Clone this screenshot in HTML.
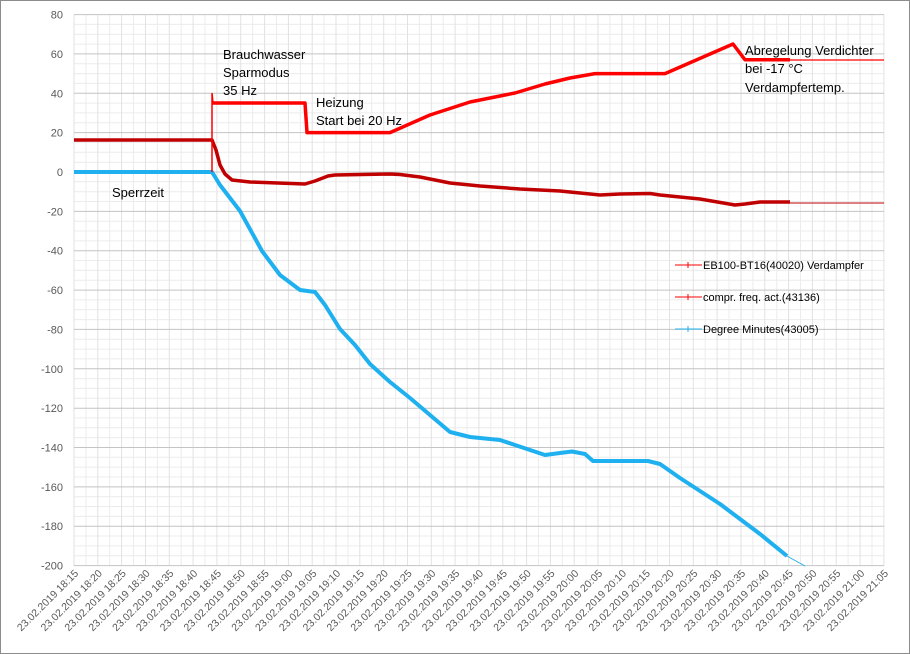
<!DOCTYPE html>
<html><head><meta charset="utf-8"><style>
html,body{margin:0;padding:0;background:#fff}
svg{display:block;font-family:"Liberation Sans",sans-serif}
</style></head><body>
<svg width="910" height="654" viewBox="0 0 910 654" xmlns="http://www.w3.org/2000/svg">
<rect x="0.5" y="0.5" width="909" height="653" fill="#fff" stroke="#8c8c8c"/>
<g stroke="#ececec" stroke-width="1">
<path d="M74 24.4H884M74 34.2H884M74 44.1H884M74 63.7H884M74 73.6H884M74 83.4H884M74 103.1H884M74 112.9H884M74 122.8H884M74 142.4H884M74 152.3H884M74 162.2H884M74 181.8H884M74 191.7H884M74 201.5H884M74 221.2H884M74 231H884M74 240.9H884M74 260.5H884M74 270.4H884M74 280.2H884M74 299.9H884M74 309.7H884M74 319.6H884M74 339.2H884M74 349.1H884M74 358.9H884M74 378.6H884M74 388.4H884M74 398.3H884M74 417.9H884M74 427.8H884M74 437.6H884M74 457.3H884M74 467.1H884M74 477H884M74 496.7H884M74 506.5H884M74 516.4H884M74 536H884M74 545.9H884M74 555.7H884"/>
<path d="M85.9 15V566M109.7 15V566M133.5 15V566M157.4 15V566M181.2 15V566M205 15V566M228.8 15V566M252.6 15V566M276.5 15V566M300.3 15V566M324.1 15V566M347.9 15V566M371.7 15V566M395.6 15V566M419.4 15V566M443.2 15V566M467 15V566M490.8 15V566M514.7 15V566M538.5 15V566M562.3 15V566M586.1 15V566M609.9 15V566M633.8 15V566M657.6 15V566M681.4 15V566M705.2 15V566M729 15V566M752.9 15V566M776.7 15V566M800.5 15V566M824.3 15V566M848.1 15V566M872 15V566"/>
<path d="M74 15V566M97.8 15V566M121.6 15V566M145.5 15V566M169.3 15V566M193.1 15V566M216.9 15V566M240.7 15V566M264.6 15V566M288.4 15V566M312.2 15V566M336 15V566M359.8 15V566M383.7 15V566M407.5 15V566M431.3 15V566M455.1 15V566M478.9 15V566M502.8 15V566M526.6 15V566M550.4 15V566M574.2 15V566M598 15V566M621.9 15V566M645.7 15V566M669.5 15V566M693.3 15V566M717.1 15V566M741 15V566M764.8 15V566M788.6 15V566M812.4 15V566M836.2 15V566M860.1 15V566M883.9 15V566" stroke="#e2e2e2"/>
</g>
<g stroke="#c4c4c4" stroke-width="1">
<path d="M74 14.6H884M74 53.9H884M74 93.3H884M74 132.6H884M74 172H884M74 211.4H884M74 250.7H884M74 290.1H884M74 329.4H884M74 368.8H884M74 408.2H884M74 447.5H884M74 486.9H884M74 526.2H884M74 565.6H884"/>
</g>
<g font-size="11" fill="#595959" text-anchor="end">
<text x="63" y="18.6">80</text><text x="63" y="57.9">60</text><text x="63" y="97.3">40</text><text x="63" y="136.6">20</text><text x="63" y="176">0</text><text x="63" y="215.4">-20</text><text x="63" y="254.7">-40</text><text x="63" y="294.1">-60</text><text x="63" y="333.4">-80</text><text x="63" y="372.8">-100</text><text x="63" y="412.2">-120</text><text x="63" y="451.5">-140</text><text x="63" y="490.9">-160</text><text x="63" y="530.2">-180</text><text x="63" y="569.6">-200</text>
</g>
<g font-size="10.5" fill="#595959" text-anchor="end">
<text transform="translate(79,574) rotate(-45)">23.02.2019 18:15</text>
<text transform="translate(102.8,574) rotate(-45)">23.02.2019 18:20</text>
<text transform="translate(126.6,574) rotate(-45)">23.02.2019 18:25</text>
<text transform="translate(150.5,574) rotate(-45)">23.02.2019 18:30</text>
<text transform="translate(174.3,574) rotate(-45)">23.02.2019 18:35</text>
<text transform="translate(198.1,574) rotate(-45)">23.02.2019 18:40</text>
<text transform="translate(221.9,574) rotate(-45)">23.02.2019 18:45</text>
<text transform="translate(245.7,574) rotate(-45)">23.02.2019 18:50</text>
<text transform="translate(269.6,574) rotate(-45)">23.02.2019 18:55</text>
<text transform="translate(293.4,574) rotate(-45)">23.02.2019 19:00</text>
<text transform="translate(317.2,574) rotate(-45)">23.02.2019 19:05</text>
<text transform="translate(341,574) rotate(-45)">23.02.2019 19:10</text>
<text transform="translate(364.8,574) rotate(-45)">23.02.2019 19:15</text>
<text transform="translate(388.7,574) rotate(-45)">23.02.2019 19:20</text>
<text transform="translate(412.5,574) rotate(-45)">23.02.2019 19:25</text>
<text transform="translate(436.3,574) rotate(-45)">23.02.2019 19:30</text>
<text transform="translate(460.1,574) rotate(-45)">23.02.2019 19:35</text>
<text transform="translate(483.9,574) rotate(-45)">23.02.2019 19:40</text>
<text transform="translate(507.8,574) rotate(-45)">23.02.2019 19:45</text>
<text transform="translate(531.6,574) rotate(-45)">23.02.2019 19:50</text>
<text transform="translate(555.4,574) rotate(-45)">23.02.2019 19:55</text>
<text transform="translate(579.2,574) rotate(-45)">23.02.2019 20:00</text>
<text transform="translate(603,574) rotate(-45)">23.02.2019 20:05</text>
<text transform="translate(626.9,574) rotate(-45)">23.02.2019 20:10</text>
<text transform="translate(650.7,574) rotate(-45)">23.02.2019 20:15</text>
<text transform="translate(674.5,574) rotate(-45)">23.02.2019 20:20</text>
<text transform="translate(698.3,574) rotate(-45)">23.02.2019 20:25</text>
<text transform="translate(722.1,574) rotate(-45)">23.02.2019 20:30</text>
<text transform="translate(746,574) rotate(-45)">23.02.2019 20:35</text>
<text transform="translate(769.8,574) rotate(-45)">23.02.2019 20:40</text>
<text transform="translate(793.6,574) rotate(-45)">23.02.2019 20:45</text>
<text transform="translate(817.4,574) rotate(-45)">23.02.2019 20:50</text>
<text transform="translate(841.2,574) rotate(-45)">23.02.2019 20:55</text>
<text transform="translate(865.1,574) rotate(-45)">23.02.2019 21:00</text>
<text transform="translate(888.9,574) rotate(-45)">23.02.2019 21:05</text>
</g>
<!-- blue degree minutes -->
<polyline fill="none" stroke="#1fb0ef" stroke-width="4" stroke-linejoin="round" points="74,172 212,172 220,185 240,211 262,251 280,275 300,290 315,292 325,305 340,329 355,345 370,364 390,382 410,398 430,415 450,432 470,437 490,439 500,440 515,445 530,450 545,455 560,453 572,451.5 585,454 593,461 648,461 660,464 680,478 700,491 720,504 740,519 760,534 787,556"/>
<line x1="787" y1="556" x2="805" y2="566" stroke="#1fb0ef" stroke-width="1"/>
<!-- evaporator -->
<polyline fill="none" stroke="#c00000" stroke-width="3.5" stroke-linejoin="round" points="74,140 212,140 216,150 220,165 225,174 232,180 250,182 305,184 315,181 328,176 335,175 390,174 400,174.5 420,177 450,183 480,186 520,189 560,191 600,195 620,194 650,193.5 660,195 680,197 700,199 735,205 745,204 760,202 790,202"/>
<line x1="790" y1="203" x2="884" y2="203" stroke="#c00000" stroke-width="1"/>
<!-- compressor -->
<polyline fill="none" stroke="#ff0000" stroke-width="3.5" stroke-linejoin="round" points="212,103 305,103 307,132.6 390,132.6 430,115 470,102 500,96 515,93 545,84 570,78 595,73.6 665,73.6 733,44 745,59.8 790,59.8"/>
<polyline fill="none" stroke="#ff0000" stroke-width="1.5" points="212,172 212,93 213,103"/>
<line x1="790" y1="60" x2="884" y2="60" stroke="#ff0000" stroke-width="1.3"/>
<g font-size="13" fill="#000">
<text x="223" y="59">Brauchwasser</text><text x="223" y="77">Sparmodus</text><text x="223" y="95">35 Hz</text>
<text x="316" y="107">Heizung</text><text x="316" y="125">Start bei 20 Hz</text>
<text x="112" y="197">Sperrzeit</text>
<text x="745" y="55">Abregelung Verdichter</text><text x="745" y="73">bei -17 °C</text><text x="745" y="92">Verdampfertemp.</text>
</g>
<g font-size="11" fill="#000">
<line x1="675" y1="265" x2="702" y2="265" stroke="#ff0000"/><line x1="688" y1="262" x2="688" y2="268" stroke="#ff0000"/>
<text x="703" y="269">EB100-BT16(40020) Verdampfer</text>
<line x1="675" y1="297" x2="702" y2="297" stroke="#ff0000"/><line x1="688" y1="294" x2="688" y2="300" stroke="#ff0000"/>
<text x="703" y="301">compr. freq. act.(43136)</text>
<line x1="675" y1="329" x2="702" y2="329" stroke="#1fb0ef"/><line x1="688" y1="326" x2="688" y2="332" stroke="#1fb0ef"/>
<text x="703" y="333">Degree Minutes(43005)</text>
</g>
</svg>
</body></html>
